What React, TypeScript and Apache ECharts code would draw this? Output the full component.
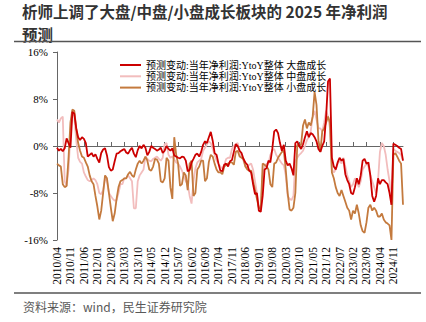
import React, { useEffect, useRef } from "react";
import * as echarts from "echarts";

// Month categories 2010/04 .. 2025/04
const START_YEAR = 2010;
const START_MONTH = 4;
const N_MONTHS = 181;
const months: string[] = [];
for (let i = 0; i < N_MONTHS; i++) {
  const t = START_MONTH - 1 + i;
  const y = START_YEAR + Math.floor(t / 12);
  const m = (t % 12) + 1;
  months.push(`${y}/${String(m).padStart(2, "0")}`);
}

const seriesNames = [
  "预测变动:当年净利润:YtoY整体 大盘成长",
  "预测变动:当年净利润:YtoY整体 中盘成长",
  "预测变动:当年净利润:YtoY整体 小盘成长",
];

const largeGrowth = [
  -0.3, -0.8, -0.5, -0.9, -0.4, 1.3, 0.5, -0.3, 5.8, 5.5,
  3.0, 1.5, 1.0, 1.5, 1.2, 0.5, -1.8, -1.5, -1.2, -1.8,
  -1.4, -2.2, -2.8, -1.2, -0.6, -0.4, -1.6, -3.6, -4.2, -4.0,
  -2.6, -1.3, -1.2, -0.9, -0.7, -0.5, -1.1, -1.3, -0.7, -0.3,
  -1.3, -1.9, -0.7, 0.0, -0.4, 0.2, -0.3, -1.6, -1.0, 0.0,
  -0.3, -0.5, -0.8, -0.6, -0.3, -1.2, -0.8, 0.0, -0.5, -0.8,
  -0.4, -1.6, -1.8, -2.0, -2.1, -1.8, -1.9, -2.5, -4.3, -4.1,
  -2.8, -2.2, -1.5, -1.3, -1.8, -1.0, 0.2, 0.8, 0.5, 1.5,
  2.4, 0.9, -1.2, -1.5, -3.0, -4.2, -4.3, -3.2, -3.0, -3.5,
  -2.6, -2.4, -1.0, 0.3, 0.0, -0.8, -1.2, -2.2, -2.8, -3.2,
  -4.2, -4.5, -6.5, -8.2, -8.0, -11.0, -11.2, -8.5, -4.0, -3.8,
  -2.5, -2.8, -0.5, 2.5, 2.8, 2.2, 0.5, -0.8, 0.2, -2.5,
  -3.3, -3.0, -3.8, -5.0, 0.5, 0.8, 0.0, -0.5, 0.3, 1.5,
  2.5, 1.5, 2.2, 2.0, 1.5, 0.8, -0.5, -1.0, 0.0, 0.8,
  5.0, 11.0, 11.5, -2.0, -3.5, -4.0, -2.8, -2.0, -2.5, -2.2,
  -4.8, -5.8, -6.5, -8.0, -8.2, -7.0, -5.5, -6.5, -5.0, -2.5,
  -2.2, -3.0, -2.8, -5.0, -8.5, -9.5, -8.5, -5.5, -6.5, -5.8,
  -5.8, -6.2, -6.5, -8.0, -10.0, 0.4, 0.2, 0.0, -0.3, -0.5, -2.5,
];

const midGrowth = [
  4.5, 4.0, 4.7, 5.0, -6.0, -6.8, -4.0, 2.0, 6.0, 5.0,
  1.0, -2.0, -2.7, -3.0, -4.5, -5.2, -5.8, -6.0, -5.8, -5.5,
  -5.8, -6.5, -8.0, -8.2, -7.5, -5.5, -6.0, -8.0, -8.5, -9.0,
  -9.3, -9.2, -8.0, -6.5, -6.5, -5.5, -5.5, -5.0, -5.5, -6.0,
  -10.6, -10.6, -6.0, -5.0, -4.5, -4.0, -1.8, -2.2, -2.5, -2.6,
  -2.2, -2.0, -1.8, -2.2, -2.5, -2.0, 0.3, 0.5, -1.5, -2.0,
  -1.8, -2.3, -2.8, -3.0, -3.5, -4.2, -5.0, -6.0, -6.5, -8.5,
  -9.8, -6.0, -3.8, -2.8, -2.5, -2.2, -0.8, -0.3, 0.3, 0.8,
  0.5, -0.5, -1.5, -2.5, -3.0, -3.5, -3.8, -3.2, -2.2, -2.0,
  -2.0, -0.5, 0.0, 0.3, 0.5, -1.0, -1.8, -2.5, -3.5, -3.6,
  -3.2, -3.0, -4.0, -6.0, -8.0, -10.3, -10.6, -5.0, -3.5, -3.0,
  -3.0, -1.5, -0.8, -0.5, -1.5, -2.0, -2.5, -3.0, -3.3, -5.0,
  -8.5, -9.0, -9.2, -8.5, -2.6, -2.0, -1.5, -1.2, -0.8, 0.0,
  1.0, 1.5, 2.5, 5.0, 6.0, 4.5, 3.0, 3.0, 2.5, 4.0,
  6.0, 5.0, 3.0, -4.0, -4.5, -4.0, -3.0, -2.5, -3.0, -2.0,
  -3.5, -5.0, -6.0, -7.0, -6.5, -5.5, -6.0, -7.0, -6.0, -4.0,
  -3.5, -3.0, -3.5, -5.0, -6.0, -7.0, -8.0, -6.0, -1.0, 0.5,
  0.0, -1.5, -4.0, -6.0, -10.0, -0.5, -0.8, -1.0, -1.2, -1.5, -2.5,
];

const smallGrowth = [
  -3.0, -3.3, -3.5, -6.5, -7.0, -6.8, -2.0, 4.0, 6.2, 6.0,
  3.0, 0.5, -0.8, -1.8, -2.0, -2.8, -3.5, -5.0, -6.0, -6.5,
  -8.5, -10.3, -12.5, -11.0, -8.0, -5.0, -5.5, -8.0, -10.5, -12.8,
  -11.5, -9.0, -7.0, -6.0, -5.8, -5.5, -5.5, -4.8, -4.4, -5.0,
  -5.3, -4.0, -3.0, -2.5, -3.0, -2.5, -1.8, -2.5, -4.0, -4.2,
  -3.5, -2.2, -2.3, -3.0, -6.0, -6.2, -5.5, -2.0, -2.5, -7.0,
  -9.0, 1.5, -1.5, -3.0, -6.8, -6.5, -4.5, -5.0, -7.5, -3.0,
  -2.5, -8.5, -8.0, -4.0, -3.5, -2.5, -2.5, -6.0, -5.5, -2.7,
  -1.5, -1.8, -3.0, -4.0, -4.5, -4.5, -4.8, -3.5, -3.2, -3.0,
  -2.8, -2.8, -3.2, -1.0, -0.8, -1.8, -2.0, -2.2, -3.5, -4.0,
  -4.2, -4.2, -6.0, -7.5, -9.0, -10.5, -10.8, -3.0, -3.2, -3.5,
  -4.0, -6.5, -7.0, -3.0, -2.8, -2.0, -1.5, -1.0, -0.8, -4.0,
  -8.0, -10.8, -11.0, -10.5, -8.0, 0.2, 0.0, 0.3, 3.5, 4.5,
  3.0, 4.0, 3.5, 5.0, 9.2, 7.0, 1.0, -1.0, 2.5, 3.0,
  4.0, 5.0, 4.0, -4.5, -5.5, -7.0, -8.0, -8.5, -7.5, -8.5,
  -9.5, -10.5, -11.0, -12.5, -11.0, -11.5, -10.0, -11.5, -13.5, -14.5,
  -14.8, -13.0, -10.5, -10.0, -11.0, -10.5, -11.0, -12.0, -12.0, -11.5,
  -12.5, -13.0, -13.2, -13.5, -16.0, -1.5, -1.2, -1.8, -2.5, -3.0, -10.0,
];

const seriesData = [largeGrowth, midGrowth, smallGrowth];
const colors = ["#CC0000", "#F2BDBD", "#C47A3E"];
const zOrder = [4, 2, 3];

const SERIF = '"Liberation Serif", "Times New Roman", "Noto Sans CJK SC", serif';
const SANS = '"Noto Sans CJK SC", "Noto Sans", sans-serif';

export default function App() {
  const ref = useRef<HTMLDivElement>(null);
  useEffect(() => {
    if (!ref.current) return;
    const chart = echarts.init(ref.current, undefined, { renderer: "svg" });
    const titleStyle = {
      fontSize: 15.5,
      fontWeight: "bold",
      fontFamily: SANS,
      fill: "#333",
      textVerticalAlign: "middle",
    };
    const option: any = {
      animation: false,
      backgroundColor: "#ffffff",
      grid: { left: 57, right: 23, top: 52, bottom: 82, containLabel: false },
      legend: {
        orient: "vertical",
        left: 115,
        top: 55,
        icon: "rect",
        itemWidth: 21,
        itemHeight: 2,
        itemGap: 1.3,
        data: seriesNames,
        textStyle: { fontSize: 10, lineHeight: 10, fontFamily: SERIF, color: "#000" },
      },
      xAxis: [
        {
          type: "category",
          data: months,
          boundaryGap: false,
          axisLine: { onZero: true, lineStyle: { color: "#666", width: 1 } },
          axisTick: { show: true, inside: true, interval: 6, length: 4, lineStyle: { color: "#666" } },
          axisLabel: { show: false },
          splitLine: { show: false },
        },
        {
          type: "category",
          data: months,
          boundaryGap: false,
          position: "bottom",
          axisLine: { show: false, onZero: false },
          axisTick: { show: false },
          axisLabel: {
            interval: 6,
            rotate: 90,
            margin: 7,
            fontSize: 11.5,
            fontFamily: SERIF,
            color: "#000",
          },
          splitLine: { show: false },
        },
      ],
      yAxis: {
        type: "value",
        min: -16,
        max: 16,
        interval: 8,
        axisLine: { show: true, lineStyle: { color: "#666" } },
        axisTick: { show: true, length: 4, lineStyle: { color: "#666" } },
        axisLabel: { formatter: "{value}%", fontSize: 11, fontFamily: SERIF, color: "#000", margin: 9 },
        splitLine: { show: false },
      },
      series: seriesNames.map((name, i) => ({
        name,
        type: "line",
        xAxisIndex: 0,
        data: seriesData[i],
        symbol: "none",
        showSymbol: false,
        z: zOrder[i],
        lineStyle: { color: colors[i], width: 1.8 },
        itemStyle: { color: colors[i] },
      })),
      graphic: [
        {
          type: "text",
          x: 22,
          y: 11.4,
          style: { ...titleStyle, text: "析师上调了大盘/中盘/小盘成长板块的 2025 年净利润" },
        },
        {
          type: "text",
          x: 22,
          y: 33.9,
          style: { ...titleStyle, text: "预测" },
        },
        {
          type: "line",
          shape: { x1: 14, y1: 41.5, x2: 421, y2: 41.5 },
          style: { stroke: "#555", lineWidth: 1.5 },
        },
        {
          type: "line",
          shape: { x1: 14, y1: 293, x2: 421, y2: 293 },
          style: { stroke: "#555", lineWidth: 1.5 },
        },
        {
          type: "text",
          x: 23,
          y: 306,
          style: {
            text: "资料来源：wind，民生证券研究院",
            fontSize: 12,
            fontFamily: SANS,
            fill: "#595959",
            textVerticalAlign: "middle",
          },
        },
      ],
    };
    chart.setOption(option);
    return () => chart.dispose();
  }, []);
  return (
    <div
      ref={ref}
      style={{ position: "fixed", left: 0, top: 0, width: 426, height: 322, background: "#fff" }}
    />
  );
}
